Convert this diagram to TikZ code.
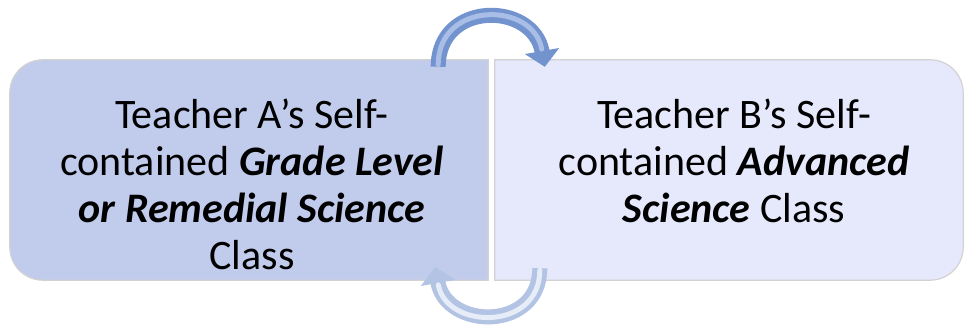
\documentclass[tikz,border=0pt]{standalone}
\usepackage{fontspec}
\setmainfont{Carlito}
\usetikzlibrary{calc,positioning,arrows.meta}
\definecolor{panelleft}{HTML}{C1CBEB}
\definecolor{panelright}{HTML}{E6E9FC}
\definecolor{paneledge}{HTML}{D2D2D2}
\definecolor{swaptop}{HTML}{7393CE}
\definecolor{swaptoplight}{HTML}{A9BEE6}
\definecolor{swapbot}{HTML}{B3C3E3}
\definecolor{swapbotlight}{HTML}{E6ECF8}
\tikzset{
  panel/.style={rectangle, minimum height=220pt, inner sep=0pt},
  panel text/.style={align=center, font=\fontsize{42}{47}\selectfont, inner sep=0pt},
  swap arrow/.style={line width=15pt, draw=#1, -{Triangle[width=34pt,length=16pt]}},
  swap shine/.style={line width=5pt, draw=#1, line cap=round},
}
\newcommand{\bi}[1]{\textbf{\textit{#1}}}

\begin{document}
\begin{tikzpicture}[x=1pt,y=1pt]
\useasboundingbox (0,0) rectangle (966,326);
\node[panel, minimum width=478pt] (A) at (249,156) {};
\node[panel, minimum width=468pt] (B) at (729,156) {};
% outer corners rounded, inner ones square
\filldraw[fill=panelleft, draw=paneledge, line width=1.2pt] (A.north east) -- ([xshift=33pt]A.north west)
  arc[start angle=90, end angle=180, radius=33pt] -- ([yshift=33pt]A.south west)
  arc[start angle=180, end angle=270, radius=33pt] -- (A.south east) -- cycle;
\filldraw[fill=panelright, draw=paneledge, line width=1.2pt] (B.north west) -- ([xshift=-33pt]B.north east)
  arc[start angle=90, end angle=0, radius=33pt] -- ([yshift=33pt]B.south east)
  arc[start angle=0, end angle=-90, radius=33pt] -- (B.south west) -- cycle;
\node[panel text, anchor=north] (textA) at ($(A.north)+(3,-39)$)
  {Teacher A’s Self-\\contained \bi{Grade Level}\\\bi{or Remedial Science}\\Class};
\node[panel text, anchor=north] (textB) at ($(B.north)+(5,-39)$)
  {Teacher B’s Self-\\contained \bi{Advanced}\\\bi{Science} Class};
% swap arrows
\coordinate (upA) at ([xshift=-50pt,yshift=-7pt]A.north east);
\coordinate (upB) at ([xshift=50pt,yshift=-7pt]B.north west);
\coordinate (downB) at ([xshift=45pt,yshift=12pt]B.south west);
\coordinate (downA) at ([xshift=-53pt,yshift=13pt]A.south east);
\draw[swap arrow=swaptop] (upA) to[out=90, in=100, looseness=1.6] (upB);
\draw[swap shine=swaptoplight, shorten >=18pt, shorten <=2pt] (upA) to[out=90, in=100, looseness=1.6] (upB);
\draw[swap arrow=swapbot] (downB) to[out=-90, in=-80, looseness=1.55] (downA);
\draw[swap shine=swapbotlight, shorten >=18pt, shorten <=2pt] (downB) to[out=-90, in=-80, looseness=1.55] (downA);
\end{tikzpicture}
\end{document}
